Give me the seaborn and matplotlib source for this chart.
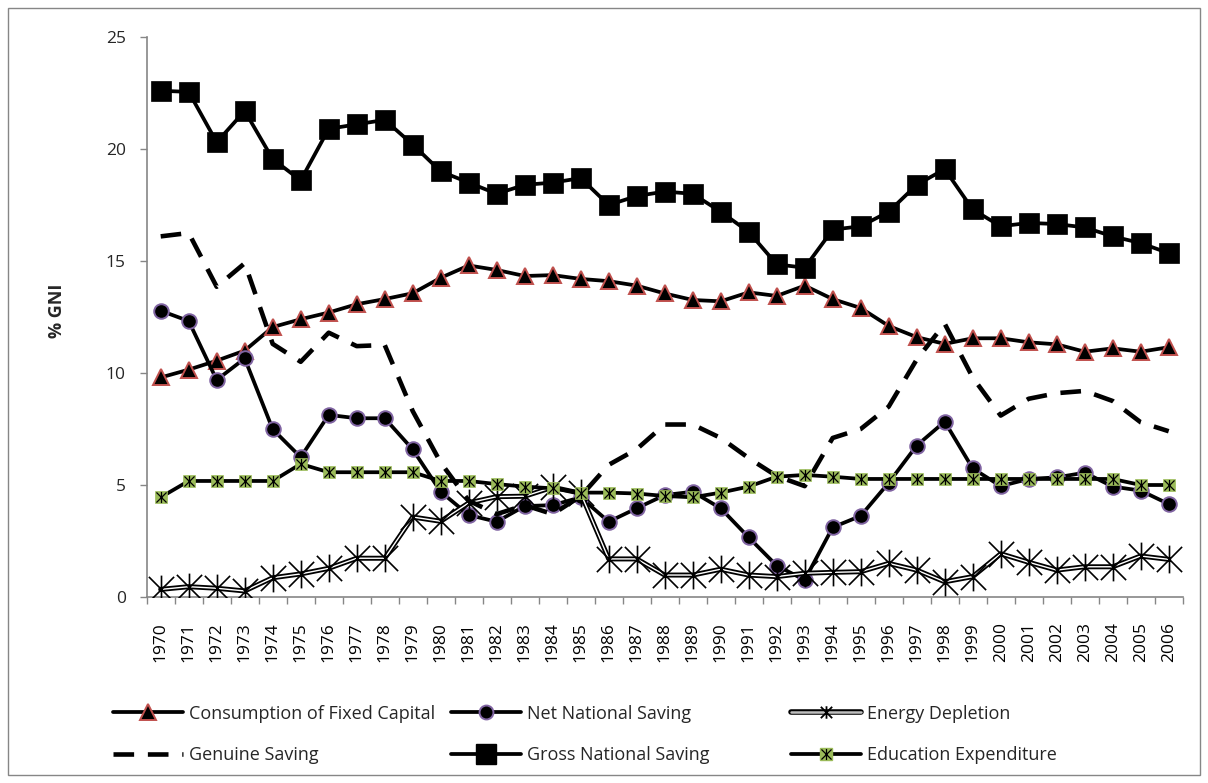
import numpy as np
import pandas as pd
import matplotlib
matplotlib.use("Agg")
import matplotlib.pyplot as plt
import seaborn as sns
from matplotlib.path import Path
from matplotlib.lines import Line2D
from matplotlib.patches import Rectangle
from matplotlib.legend_handler import HandlerTuple

years = list(range(1970, 2007))
consumption_fixed_capital = [9.8, 10.15, 10.55, 11.0, 12.05, 12.4, 12.7, 13.07, 13.3, 13.56,
                             14.25, 14.8, 14.6, 14.33, 14.37, 14.2, 14.1, 13.9, 13.55, 13.26,
                             13.2, 13.6, 13.44, 13.9, 13.3, 12.9, 12.1, 11.6, 11.3, 11.55,
                             11.55, 11.37, 11.28, 10.95, 11.1, 10.95, 11.15]
net_national_saving = [12.78, 12.32, 9.69, 10.65, 7.49, 6.24, 8.13, 7.98, 7.98, 6.59,
                       4.7, 3.66, 3.36, 4.06, 4.1, 4.45, 3.36, 3.96, 4.55, 4.7,
                       3.96, 2.66, 1.4, 0.76, 3.11, 3.62, 5.1, 6.76, 7.83, 5.74,
                       4.95, 5.27, 5.34, 5.55, 4.93, 4.75, 4.15]
energy_depletion = [0.34, 0.46, 0.39, 0.27, 0.86, 1.03, 1.28, 1.73, 1.73, 3.57,
                    3.38, 4.2, 4.48, 4.5, 4.9, 4.63, 1.7, 1.7, 0.98, 0.98,
                    1.24, 0.98, 0.91, 1.06, 1.1, 1.13, 1.5, 1.2, 0.68, 0.91,
                    1.93, 1.55, 1.2, 1.35, 1.35, 1.83, 1.68]
genuine_saving = [16.1, 16.25, 13.85, 14.9, 11.3, 10.5, 11.8, 11.2, 11.25, 8.3,
                  6.0, 4.3, 3.7, 4.1, 3.7, 4.5, 5.9, 6.6, 7.7, 7.7,
                  7.1, 6.2, 5.4, 4.95, 7.1, 7.5, 8.5, 10.6, 12.2, 9.8,
                  8.1, 8.85, 9.1, 9.2, 8.75, 7.8, 7.4]
gross_national_saving = [22.6, 22.55, 20.3, 21.7, 19.55, 18.6, 20.9, 21.1, 21.3, 20.2,
                         19.0, 18.5, 18.0, 18.4, 18.5, 18.7, 17.5, 17.9, 18.1, 18.0,
                         17.2, 16.3, 14.85, 14.7, 16.4, 16.55, 17.2, 18.4, 19.1, 17.3,
                         16.55, 16.7, 16.65, 16.5, 16.1, 15.8, 15.35]
education_expenditure = [4.45, 5.18, 5.18, 5.18, 5.18, 5.94, 5.57, 5.57, 5.57, 5.57,
                         5.18, 5.18, 5.04, 4.93, 4.85, 4.66, 4.66, 4.62, 4.51, 4.45,
                         4.66, 4.93, 5.37, 5.45, 5.37, 5.27, 5.27, 5.27, 5.27, 5.27,
                         5.27, 5.27, 5.27, 5.27, 5.27, 5.0, 5.0]
series_labels = ["Consumption of Fixed Capital", "Net National Saving", "Energy Depletion",
                 "Genuine Saving", "Gross National Saving", "Education Expenditure"]
y_ticks = [0, 5, 10, 15, 20, 25]

sns.set_theme(style="white")
plt.rcParams['font.family'] = ['Open Sans', 'DejaVu Sans']

W, H = 1208, 783
fig = plt.figure(figsize=(W / 100, H / 100), dpi=100)
fig.patch.set_facecolor('white')
L, R, T, B = 146.7, 1182.7, 37.0, 597.0
ax = fig.add_axes([L / W, 1 - B / H, (R - L) / W, (B - T) / H])

star = Path([(-1, -1), (1, 1), (-1, 1), (1, -1), (0, -1.1), (0, 1.1)],
            [Path.MOVETO, Path.LINETO, Path.MOVETO, Path.LINETO, Path.MOVETO, Path.LINETO])

LW = 2.7
RED = '#C0504D'
PURPLE = '#8064A2'
GREEN = '#9BBB59'
GREY = '#868686'

# Consumption of Fixed Capital
sns.lineplot(x=years, y=consumption_fixed_capital, ax=ax, color='black', lw=LW,
             marker='^', markersize=11.5, markerfacecolor='black', markeredgecolor=RED,
             markeredgewidth=1.4, zorder=3)
# Net National Saving
sns.lineplot(x=years, y=net_national_saving, ax=ax, color='black', lw=LW,
             marker='o', markersize=10.5, markerfacecolor='black', markeredgecolor=PURPLE,
             markeredgewidth=1.4, zorder=3)
# Energy Depletion (compound line)
sns.lineplot(x=years, y=energy_depletion, ax=ax, color='black', lw=3.6, zorder=3)
sns.lineplot(x=years, y=energy_depletion, ax=ax, color='white', lw=1.0, zorder=3.1)
sns.lineplot(x=years, y=energy_depletion, ax=ax, color='black', lw=0,
             marker=star, markersize=20, markeredgecolor='black', markeredgewidth=1.2,
             zorder=3.2)
# Genuine Saving
sns.lineplot(x=years, y=genuine_saving, ax=ax, color='black', lw=3.3,
             dashes=(4.5, 3.0), zorder=3.3)
# Gross National Saving
sns.lineplot(x=years, y=gross_national_saving, ax=ax, color='black', lw=LW,
             marker='s', markersize=14.5, markerfacecolor='black', markeredgecolor='black',
             markeredgewidth=0.5, zorder=3.4)
# Education Expenditure
sns.lineplot(x=years, y=education_expenditure, ax=ax, color='black', lw=LW,
             marker='s', markersize=9, markerfacecolor=GREEN, markeredgecolor=GREEN,
             markeredgewidth=0.5, zorder=3.5)
sns.lineplot(x=years, y=education_expenditure, ax=ax, color='black', lw=0,
             marker=star, markersize=8, markeredgecolor='black', markeredgewidth=0.9,
             zorder=3.6)

ax.set_xlim(years[0] - 0.5, years[-1] + 0.5)
ax.set_ylim(0, 25)
ax.set_yticks(y_ticks)
ax.set_yticklabels([str(v) for v in y_ticks])
ax.set_xticks(years)
ax.set_xticklabels([str(y) for y in years], rotation=90)
ax.set_xticks(np.arange(years[0] - 0.5, years[-1] + 1.0, 1.0), minor=True)
ax.tick_params(axis='x', which='major', length=0, pad=18, labelsize=12.5, colors='black')
ax.tick_params(axis='x', which='minor', length=5, width=1, color=GREY, direction='out', bottom=True)
ax.tick_params(axis='y', which='major', length=5, width=1, color=GREY, direction='out',
               left=True, pad=10, labelsize=12.5)
for side in ['top', 'right']:
    ax.spines[side].set_visible(False)
for side in ['left', 'bottom']:
    ax.spines[side].set_color(GREY)
    ax.spines[side].set_linewidth(1.2)
ax.set_xlabel('')
ax.set_ylabel('')
fig.text(57 / W, 1 - 311 / H, '% GNI', rotation=90, ha='center', va='center',
         fontsize=13, fontweight='bold')

# Legend handles
h_cfc = Line2D([], [], color='black', lw=LW, marker='^', markersize=11,
               markerfacecolor='black', markeredgecolor=RED, markeredgewidth=1.4)
h_net = Line2D([], [], color='black', lw=LW, marker='o', markersize=10,
               markerfacecolor='black', markeredgecolor=PURPLE, markeredgewidth=1.4)
h_en = (Line2D([], [], color='black', lw=4.0), Line2D([], [], color='#BFBFBF', lw=1.8),
        Line2D([], [], lw=0, marker=star, markersize=9, markeredgecolor='black', markeredgewidth=1.3))
h_gen = Line2D([], [], color='black', lw=3.3, dashes=(4.5, 3.0))
h_gross = Line2D([], [], color='black', lw=LW, marker='s', markersize=14,
                 markerfacecolor='black', markeredgecolor='black')
h_edu = (Line2D([], [], color='black', lw=LW, marker='s', markersize=9,
                markerfacecolor=GREEN, markeredgecolor=GREEN),
         Line2D([], [], lw=0, marker=star, markersize=8, markeredgecolor='black', markeredgewidth=0.9))

cols = [(113, [h_cfc, h_gen], [series_labels[0], series_labels[3]]),
        (451, [h_net, h_gross], [series_labels[1], series_labels[4]]),
        (791, [h_en, h_edu], [series_labels[2], series_labels[5]])]
for x0, hs, ls in cols:
    fig.legend(hs, ls, loc='center left', bbox_to_anchor=(x0 / W, 1 - 734.5 / H),
               frameon=False, fontsize=13, handlelength=3.85, handletextpad=0.35,
               borderpad=0, borderaxespad=0, labelspacing=1.3,
               handler_map={tuple: HandlerTuple(ndivide=1, pad=0)})

fig.patches.append(Rectangle((8 / W, 1 - 775 / H), (1200 - 8) / W, (775 - 8) / H,
                             transform=fig.transFigure, fill=False, edgecolor=GREY, lw=1.0))

fig.savefig('out.png', dpi=100, facecolor='white')
